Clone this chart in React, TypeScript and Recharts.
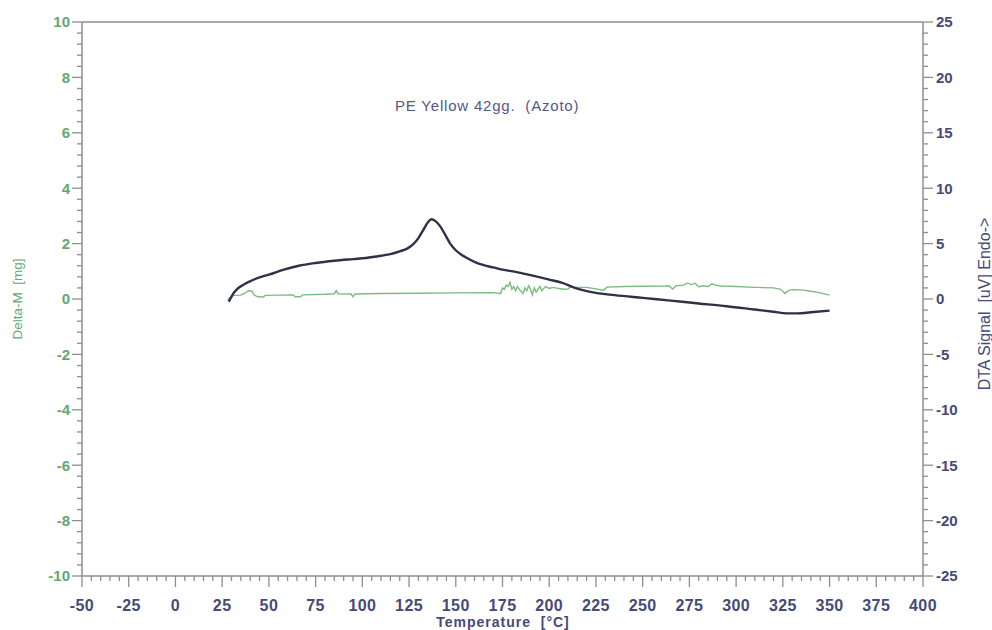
import { LineChart, Line, XAxis, YAxis, ReferenceLine, Label } from 'recharts';

// Temperature axis [°C]
const tempTicks = [-50, -25, 0, 25, 50, 75, 100, 125, 150, 175, 200, 225, 250, 275, 300, 325, 350, 375, 400];
// Left axis: Delta-M [mg]
const massTicks = [-10, -8, -6, -4, -2, 0, 2, 4, 6, 8, 10];
// Right axis: DTA signal [uV]
const dtaTicks = [-25, -20, -15, -10, -5, 0, 5, 10, 15, 20, 25];

// DTA curve
const dtaTemp = [
  28.5, 30, 31, 33, 36, 40, 45, 50, 58, 66, 75, 85, 95, 102, 110, 115, 120, 124, 127, 130,
  132.5, 135, 137, 139, 141.5, 144, 147, 150, 153, 156, 160, 165, 170, 175, 182, 190, 200,
  207, 213, 218, 225, 235, 250, 265, 280, 295, 310, 320, 327, 333, 340, 350,
];
const dtaSignal = [
  -0.25, 0.2, 0.5, 0.9, 1.25, 1.6, 1.95, 2.2, 2.65, 3.0, 3.25, 3.45, 3.6, 3.7, 3.9, 4.05, 4.3, 4.55, 4.9, 5.5,
  6.2, 6.9, 7.2, 7.05, 6.6, 5.9, 5.0, 4.4, 4.0, 3.7, 3.35, 3.05, 2.85, 2.65, 2.45, 2.15, 1.75,
  1.45, 1.05, 0.8, 0.55, 0.35, 0.1, -0.15, -0.4, -0.65, -0.95, -1.15, -1.3, -1.3, -1.2, -1.05,
];

// Mass change curve
const massTemp = [
  28, 29, 30, 35, 37, 39, 41, 42, 44, 47, 48, 55, 63, 64, 67, 68, 80, 85, 86, 87, 94, 95, 96,
  110, 130, 150, 170, 174, 175, 176, 177, 178, 179, 180, 181, 182, 183, 184, 186, 187, 188, 189,
  190, 191, 192, 193, 195, 196, 198, 200, 202, 205, 208, 210, 211, 220, 229, 231, 240, 250, 262,
  264, 266, 268, 272, 274, 276, 278, 280, 282, 285, 287, 289, 292, 300, 310, 320, 324, 326, 328,
  330, 335, 340, 345, 350,
];
const massDelta = [
  -0.05, 0.05, 0.12, 0.14, 0.2, 0.3, 0.28, 0.15, 0.08, 0.07, 0.13, 0.14, 0.15, 0.08, 0.08, 0.15, 0.17, 0.19, 0.3, 0.19, 0.18, 0.08, 0.18,
  0.2, 0.21, 0.22, 0.23, 0.2, 0.4, 0.35, 0.5, 0.45, 0.6, 0.35, 0.45, 0.3, 0.45, 0.35, 0.2, 0.4, 0.3, 0.48,
  0.35, 0.15, 0.4, 0.25, 0.45, 0.3, 0.45, 0.38, 0.42, 0.38, 0.35, 0.36, 0.42, 0.42, 0.32, 0.43, 0.45, 0.46, 0.47,
  0.48, 0.36, 0.48, 0.5, 0.58, 0.52, 0.57, 0.44, 0.48, 0.45, 0.55, 0.5, 0.47, 0.45, 0.42, 0.4, 0.35, 0.2, 0.3,
  0.34, 0.33, 0.28, 0.22, 0.14,
];

const dtaData = dtaTemp.map((t, i) => ({ t, v: dtaSignal[i] }));
const massData = massTemp.map((t, i) => ({ t, v: massDelta[i] }));

const AXIS = '#8e8e8e';
const NAVY = '#454a77';
const GREEN = '#62a873';
const FONT = '"Liberation Sans", Arial, sans-serif';

// majors plus four minor ticks between each pair
const withMinors = (majors: number[]) => {
  const out: number[] = [];
  majors.forEach((m, i) => {
    out.push(m);
    if (i < majors.length - 1) {
      const step = (majors[i + 1] - m) / 5;
      for (let k = 1; k < 5; k++) out.push(+(m + k * step).toFixed(4));
    }
  });
  return out;
};
const isMajor = (majors: number[], v: number) => majors.some((m) => Math.abs(m - v) < 1e-6);

const TempTick = ({ x, y, payload }: any) => {
  const major = isMajor(tempTicks, payload.value);
  return (
    <g>
      <line x1={x} x2={x} y1={y} y2={y + (major ? 11 : 5)} stroke={AXIS} strokeWidth={1.3} />
      {major && (
        <text x={x} y={y + 35} textAnchor="middle" fill={NAVY} fontSize={16} fontWeight="bold" fontFamily={FONT} letterSpacing={0.4}>
          {payload.value}
        </text>
      )}
    </g>
  );
};

const MassTick = ({ x, y, payload }: any) => {
  const major = isMajor(massTicks, payload.value);
  return (
    <g>
      <line x1={x - (major ? 10 : 5)} x2={x} y1={y} y2={y} stroke={AXIS} strokeWidth={1.3} />
      {major && (
        <text x={x - 12} y={y} dy="0.36em" textAnchor="end" fill={GREEN} fontSize={15} fontWeight="bold" fontFamily={FONT}>
          {payload.value}
        </text>
      )}
    </g>
  );
};

const DtaTick = ({ x, y, payload }: any) => {
  const major = isMajor(dtaTicks, payload.value);
  return (
    <g>
      <line x1={x} x2={x + (major ? 10 : 5)} y1={y} y2={y} stroke={AXIS} strokeWidth={1.3} />
      {major && (
        <text x={x + 13} y={y} dy="0.36em" textAnchor="start" fill={NAVY} fontSize={15} fontWeight="bold" fontFamily={FONT}>
          {payload.value}
        </text>
      )}
    </g>
  );
};

export default function App() {
  return (
    <div style={{ position: 'absolute', left: 0, top: 0, width: 992, height: 630, background: '#fff', fontFamily: FONT }}>
      <div
        style={{
          position: 'absolute',
          left: 395,
          top: 97,
          fontSize: 15,
          color: '#535886',
          letterSpacing: 0.8,
          whiteSpace: 'pre',
          lineHeight: '18px',
        }}
      >
        {'PE Yellow 42gg.  (Azoto)'}
      </div>
      <LineChart width={992} height={630} margin={{ top: 22, right: 0, bottom: 0, left: 0 }}>
        <XAxis
          xAxisId="t"
          type="number"
          dataKey="t"
          domain={[-50, 400]}
          ticks={withMinors(tempTicks)}
          interval={0}
          tick={<TempTick />}
          tickLine={false}
          tickSize={0}
          tickMargin={0}
          height={54}
          axisLine={{ stroke: AXIS, strokeWidth: 1.5 }}
          allowDataOverflow
        >
          <Label
            content={() => (
              <text x={503} y={627} textAnchor="middle" fill={NAVY} fontSize={14} fontWeight="bold" fontFamily={FONT} letterSpacing={1} style={{ whiteSpace: 'pre' }}>
                {'Temperature  [°C]'}
              </text>
            )}
          />
        </XAxis>
        <YAxis
          yAxisId="mass"
          orientation="left"
          type="number"
          domain={[-10, 10]}
          ticks={withMinors(massTicks)}
          interval={0}
          tick={<MassTick />}
          tickLine={false}
          tickSize={0}
          tickMargin={0}
          width={82}
          axisLine={{ stroke: AXIS, strokeWidth: 1.5 }}
          allowDataOverflow
        >
          <Label
            content={() => (
              <text x={22} y={299} transform="rotate(-90 22 299)" textAnchor="middle" fill={GREEN} fontSize={13.5} fontFamily={FONT} style={{ whiteSpace: 'pre' }}>
                {'Delta-M  [mg]'}
              </text>
            )}
          />
        </YAxis>
        <YAxis
          yAxisId="dta"
          orientation="right"
          type="number"
          domain={[-25, 25]}
          ticks={withMinors(dtaTicks)}
          interval={0}
          tick={<DtaTick />}
          tickLine={false}
          tickSize={0}
          tickMargin={0}
          width={69}
          axisLine={{ stroke: AXIS, strokeWidth: 1.5 }}
          allowDataOverflow
        >
          <Label
            content={() => (
              <text x={990} y={304} transform="rotate(-90 990 304)" textAnchor="middle" fill={NAVY} fontSize={16} fontFamily={FONT} style={{ whiteSpace: 'pre' }}>
                {'DTA Signal  [uV] Endo->'}
              </text>
            )}
          />
        </YAxis>
        <ReferenceLine xAxisId="t" yAxisId="mass" y={10} stroke={AXIS} strokeWidth={1.5} />
        <Line
          xAxisId="t"
          yAxisId="mass"
          data={massData}
          dataKey="v"
          type="linear"
          stroke="#7cbb84"
          strokeWidth={1.4}
          dot={false}
          isAnimationActive={false}
        />
        <Line
          xAxisId="t"
          yAxisId="dta"
          data={dtaData}
          dataKey="v"
          type="monotone"
          stroke="#2f3146"
          strokeWidth={2.4}
          dot={false}
          isAnimationActive={false}
        />
      </LineChart>
    </div>
  );
}
